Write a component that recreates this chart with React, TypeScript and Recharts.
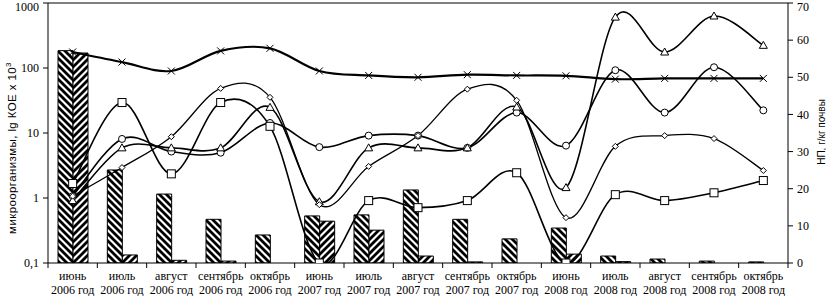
import React from 'react';
import { ComposedChart, Bar, Line, XAxis, YAxis, ReferenceLine } from 'recharts';

const months = ['июнь', 'июль', 'август', 'сентябрь', 'октябрь'];
const years = ['2006 год', '2007 год', '2008 год'];

// left axis (log), microorganisms
const barA = [185, 2.7, 1.15, 0.47, 0.27, 0.53, 0.55, 1.33, 0.47, 0.235, 0.345, 0.128, 0.115, 0.107, 0.104];
const barB = [170, 0.133, 0.11, 0.107, null, 0.44, 0.32, 0.128, 0.104, null, 0.137, 0.105, null, null, null];

// right axis, НП
const crossVals = [56.8, 54.1, 51.7, 57.1, 57.8, 51.7, 50.5, 50, 50.7, 50.5, 50.4, 49.5, 49.7, 49.7, 49.7];
const circleVals = [18, 33.4, 30, 29.7, 37.7, 31.2, 34.3, 34.3, 31, 40.5, 31.6, 51.9, 40.5, 52.7, 41.1];
const squareVals = [21.4, 43.2, 24, 43.2, 36.8, 0, 16.8, 14.9, 16.8, 24.3, 0, 18.4, 16.8, 18.9, 22.2];
const triangleVals = [16.8, 31, 31, 31, 41.9, 16.5, 31, 31, 31, 42, 20.3, 66.2, 56.8, 66.5, 58.6];
const diamondVals = [18, 25.7, 34, 47, 44.6, 15.7, 26, 34.3, 46.8, 43.8, 12.2, 31.4, 34.3, 33.5, 24.9];

const leftTicks = [0.1, 1, 10, 100, 1000];
const rightTicks = [0, 10, 20, 30, 40, 50, 60, 70];

const data = years.flatMap((yr, yi) =>
  months.map((m, mi) => {
    const i = yi * 5 + mi;
    return {
      key: `${m} ${yr}`,
      a: barA[i],
      b: barB[i],
      cross: crossVals[i],
      circle: circleVals[i],
      square: squareVals[i],
      triangle: triangleVals[i],
      diamond: diamondVals[i],
    };
  })
);

// Excel-like smoothed line (Catmull-Rom through points)
const excelCurve = (context: any) => {
  let pts: number[][] = [];
  return {
    areaStart() {},
    areaEnd() {},
    lineStart() {
      pts = [];
    },
    lineEnd() {
      if (!pts.length) return;
      context.moveTo(pts[0][0], pts[0][1]);
      for (let i = 0; i < pts.length - 1; i++) {
        const p0 = pts[i - 1] || pts[i];
        const p1 = pts[i];
        const p2 = pts[i + 1];
        const p3 = pts[i + 2] || p2;
        context.bezierCurveTo(
          p1[0] + (p2[0] - p0[0]) / 6,
          p1[1] + (p2[1] - p0[1]) / 6,
          p2[0] - (p3[0] - p1[0]) / 6,
          p2[1] - (p3[1] - p1[1]) / 6,
          p2[0],
          p2[1]
        );
      }
    },
    point(x: number, y: number) {
      pts.push([+x, +y]);
    },
  };
};

const marker = (kind: string) => (props: any) => {
  const { cx, cy, index } = props;
  if (cx == null || cy == null || isNaN(cx) || isNaN(cy)) return <g key={`m-${kind}-${index}`} />;
  const k = `m-${kind}-${index}`;
  switch (kind) {
    case 'x':
      return (
        <path key={k} d={`M${cx - 3.5},${cy - 3.5}L${cx + 3.5},${cy + 3.5}M${cx - 3.5},${cy + 3.5}L${cx + 3.5},${cy - 3.5}`} stroke="#000" strokeWidth={1} fill="none" />
      );
    case 'o':
      return <circle key={k} cx={cx} cy={cy} r={3.5} fill="#fff" stroke="#000" strokeWidth={1} />;
    case 's':
      return <rect key={k} x={cx - 4} y={cy - 4} width={8} height={8} fill="#fff" stroke="#000" strokeWidth={1} />;
    case 't':
      return <path key={k} d={`M${cx},${cy - 4}L${cx + 4},${cy + 3}L${cx - 4},${cy + 3}Z`} fill="#fff" stroke="#000" strokeWidth={1} />;
    default:
      return <path key={k} d={`M${cx},${cy - 3}L${cx + 3},${cy}L${cx},${cy + 3}L${cx - 3},${cy}Z`} fill="#fff" stroke="#000" strokeWidth={1} />;
  }
};

const XTick = (props: any) => {
  const { x, y, payload, index, visibleTicksCount } = props;
  const off = payload && payload.offset ? payload.offset : 24.67;
  const parts = String(payload.value).split(' ');
  const m = parts[0];
  const yr = parts.slice(1).join(' ');
  return (
    <g>
      <line x1={x - off} x2={x - off} y1={y} y2={y + 5} stroke="#000" />
      {index === visibleTicksCount - 1 && <line x1={x + off} x2={x + off} y1={y} y2={y + 5} stroke="#000" />}
      <text x={x} y={y + 17} textAnchor="middle" fontFamily="Liberation Serif" fontSize={12} fill="#000">
        {m}
      </text>
      <text x={x} y={y + 31} textAnchor="middle" fontFamily="Liberation Serif" fontSize={12} fill="#000">
        {yr}
      </text>
    </g>
  );
};

const YTick = (props: any) => {
  const { x, y, payload, textAnchor, fmt } = props;
  const label = fmt ? fmt(payload.value) : String(payload.value);
  const cy = Math.max(y, 7);
  return (
    <text x={x} y={cy} dy="0.35em" textAnchor={textAnchor} fontFamily="Liberation Serif" fontSize={12} fill="#000">
      {label}
    </text>
  );
};

const leftFmt = (v: number) => String(v).replace('.', ',');

export default function App() {
  return (
    <div style={{ position: 'absolute', left: 0, top: 0, width: 826, height: 296, background: '#fff' }}>
      <ComposedChart width={826} height={296} data={data} margin={{ top: 3, right: 0, bottom: 0, left: 0 }} barGap={0} barSize={15}>
        <defs>
          <pattern id="hatchA" patternUnits="userSpaceOnUse" width={7} height={7}>
            <rect width={7} height={7} fill="#fff" />
            <path d="M-3.5,3.5L3.5,10.5M0,0L7,7M3.5,-3.5L10.5,3.5" stroke="#000" strokeWidth={2.8} />
          </pattern>
          <pattern id="hatchB" patternUnits="userSpaceOnUse" width={7} height={7}>
            <rect width={7} height={7} fill="#fff" />
            <path d="M-3.5,3.5L3.5,-3.5M0,7L7,0M3.5,10.5L10.5,3.5" stroke="#000" strokeWidth={2.8} />
          </pattern>
        </defs>
        <XAxis
          dataKey="key"
          height={33}
          interval={0}
          tickSize={0}
          tickMargin={0}
          tickLine={false}
          axisLine={{ stroke: '#000' }}
          tick={<XTick />}
        />
        <YAxis
          yAxisId="left"
          orientation="left"
          width={48}
          scale="log"
          domain={[0.1, 1000]}
          allowDataOverflow
          ticks={leftTicks}
          interval={0}
          tickSize={5}
          tickMargin={4}
          axisLine={{ stroke: '#000' }}
          tickLine={{ stroke: '#000' }}
          tick={<YTick fmt={leftFmt} />}
        />
        <YAxis
          yAxisId="right"
          orientation="right"
          width={38}
          type="number"
          domain={[0, 70]}
          allowDataOverflow
          ticks={rightTicks}
          interval={0}
          tickSize={5}
          tickMargin={4}
          axisLine={{ stroke: '#000' }}
          tickLine={{ stroke: '#000' }}
          tick={<YTick />}
        />
        <ReferenceLine yAxisId="left" y={1000} stroke="#000" />
        <Bar yAxisId="left" dataKey="a" fill="url(#hatchA)" stroke="#000" strokeWidth={1} isAnimationActive={false} />
        <Bar yAxisId="left" dataKey="b" fill="url(#hatchB)" stroke="#000" strokeWidth={1} isAnimationActive={false} />
        <Line yAxisId="right" dataKey="cross" type={excelCurve as any} stroke="#000" strokeWidth={2.2} dot={marker('x')} activeDot={false} isAnimationActive={false} />
        <Line yAxisId="right" dataKey="circle" type={excelCurve as any} stroke="#000" strokeWidth={1.6} dot={marker('o')} activeDot={false} isAnimationActive={false} />
        <Line yAxisId="right" dataKey="square" type={excelCurve as any} stroke="#000" strokeWidth={1.6} dot={marker('s')} activeDot={false} isAnimationActive={false} />
        <Line yAxisId="right" dataKey="triangle" type={excelCurve as any} stroke="#000" strokeWidth={1.6} dot={marker('t')} activeDot={false} isAnimationActive={false} />
        <Line yAxisId="right" dataKey="diamond" type={excelCurve as any} stroke="#000" strokeWidth={1.3} dot={marker('d')} activeDot={false} isAnimationActive={false} />
        <text transform="translate(12,148) rotate(-90)" textAnchor="middle" dominantBaseline="central" fontFamily="Liberation Sans" fontSize={11.5} letterSpacing={0.4} fill="#000">
          микроорганизмы, lg КОЕ x 10<tspan dy={-4} fontSize={8}>3</tspan>
        </text>
        <text transform="translate(821,132) rotate(-90)" textAnchor="middle" dominantBaseline="central" fontFamily="Liberation Sans" fontSize={10} fill="#000">
          НП, г/кг почвы
        </text>
      </ComposedChart>
    </div>
  );
}
